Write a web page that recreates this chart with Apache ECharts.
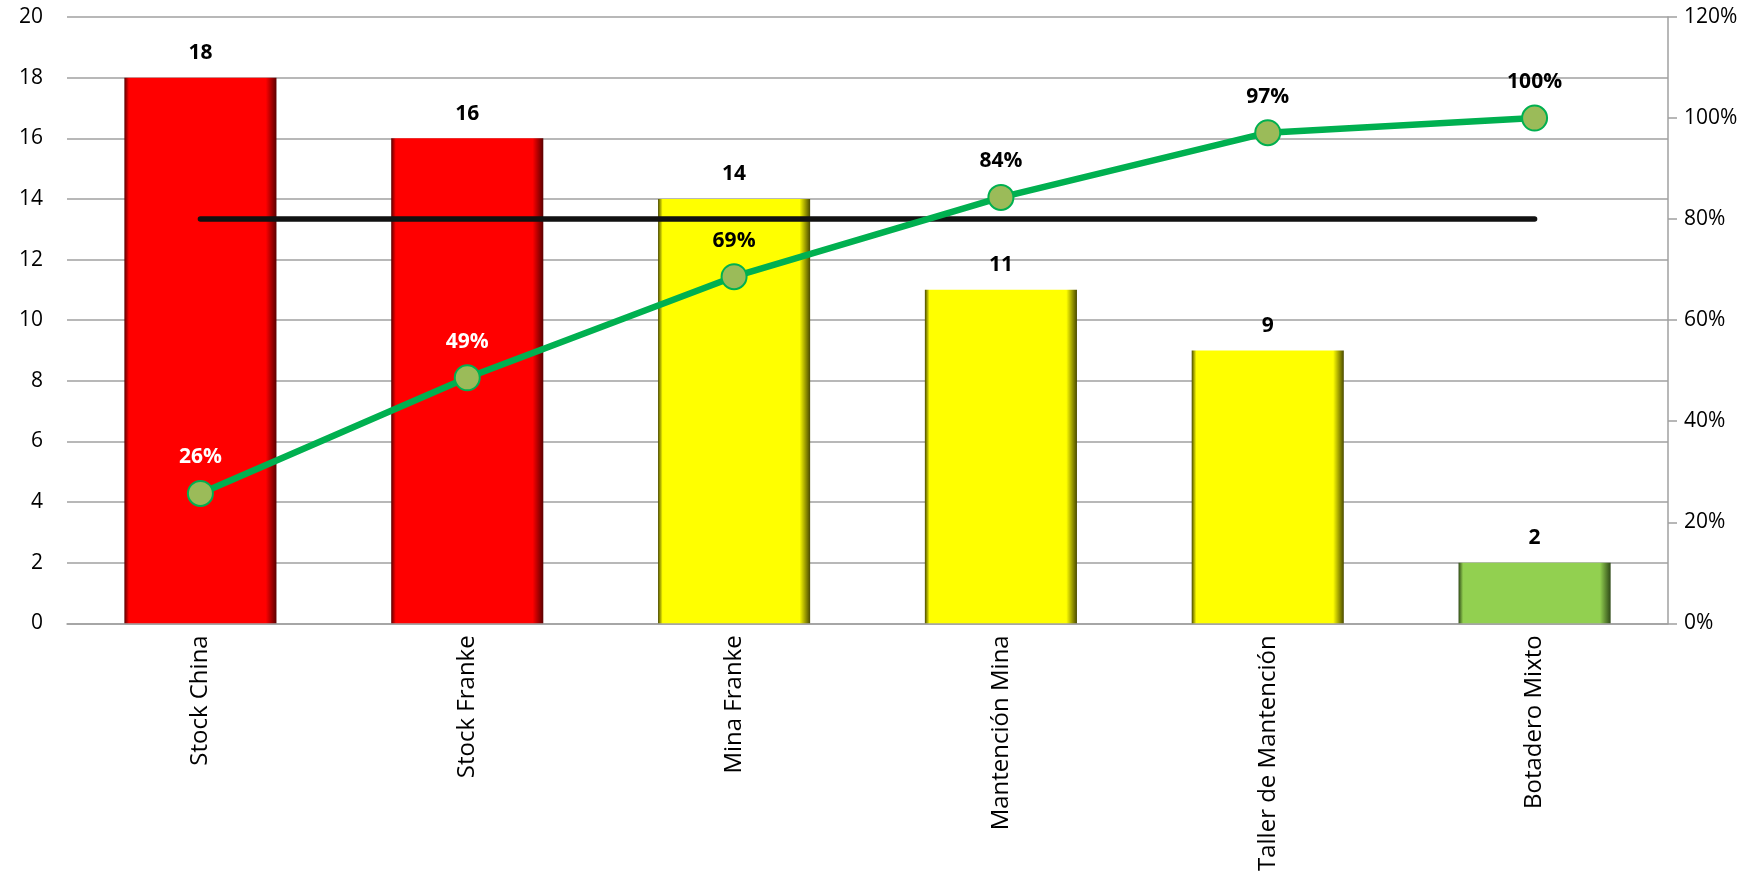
<!DOCTYPE html>
<html>
<head>
<meta charset="utf-8">
<script src="https://cdn.jsdelivr.net/npm/echarts@6/dist/echarts.min.js"></script>
<style>
  html, body { margin: 0; padding: 0; background: #ffffff; }
  #main { width: 1760px; height: 874px; }
</style>
</head>
<body>
<div id="main"></div>
<script>
// datos del pareto
const categorias = ['Stock China', 'Stock Franke', 'Mina Franke', 'Mantención Mina', 'Taller de Mantención', 'Botadero Mixto'];
const cantidades = [18, 16, 14, 11, 9, 2];
const acumulado = [25.7, 48.6, 68.6, 84.3, 97.1, 100];
const umbral = [80, 80, 80, 80, 80, 80];
const coloresBarra = ['#ff0000', '#ff0000', '#ffff00', '#ffff00', '#ffff00', '#92d050'];
const coloresOscuros = ['#5a0000', '#5a0000', '#4a4a00', '#4a4a00', '#4a4a00', '#2f4a17'];
const coloresEtiqueta = ['#ffffff', '#ffffff', '#000000', '#000000', '#000000', '#000000'];

const chart = echarts.init(document.getElementById('main'));

// barras con efecto bisel (aprox)
const barData = cantidades.map((v, i) => ({
  value: v,
  itemStyle: {
    color: new echarts.graphic.LinearGradient(0, 0, 1, 0, [
      { offset: 0, color: coloresOscuros[i] },
      { offset: 0.03, color: coloresBarra[i] },
      { offset: 0.93, color: coloresBarra[i] },
      { offset: 1, color: coloresOscuros[i] }
    ])
  }
}));

const lineData = acumulado.map((v, i) => ({
  value: v,
  label: { color: coloresEtiqueta[i] }
}));

const option = {
  backgroundColor: '#ffffff',
  animation: false,
  grid: { left: 67, right: 92, top: 17, bottom: 248 },
  xAxis: {
    type: 'category',
    data: categorias,
    axisLine: { lineStyle: { color: '#a0a0a0', width: 1.5 } },
    axisTick: { show: false },
    axisLabel: {
      rotate: 90,
      margin: 12,
      color: '#000',
      fontFamily: 'Open Sans',
      fontSize: 24
    }
  },
  yAxis: [
    {
      type: 'value',
      min: 0, max: 20, interval: 2,
      axisLine: { show: false },
      axisTick: { show: false },
      splitLine: { lineStyle: { color: '#a0a0a0', width: 1.5 } },
      axisLabel: { color: '#000', fontFamily: 'Open Sans', fontSize: 21, margin: 24 }
    },
    {
      type: 'value',
      min: 0, max: 120, interval: 20,
      position: 'right',
      axisLine: { show: true, lineStyle: { color: '#a0a0a0', width: 1.5 } },
      axisTick: { show: true, length: 9, lineStyle: { color: '#a0a0a0', width: 1.5 } },
      splitLine: { show: false },
      axisLabel: { color: '#000', fontFamily: 'Open Sans', fontSize: 21, margin: 16, formatter: '{value}%' }
    }
  ],
  series: [
    {
      name: 'Cantidad',
      type: 'bar',
      data: barData,
      barWidth: '57%',
      z: 2,
      label: {
        show: true,
        position: 'top',
        distance: 14,
        color: '#000',
        fontWeight: 'bold',
        fontFamily: 'Open Sans',
        fontSize: 21
      }
    },
    {
      name: 'Umbral',
      type: 'line',
      yAxisIndex: 1,
      data: umbral,
      symbol: 'none',
      z: 3,
      lineStyle: { color: '#111111', width: 5.5, cap: 'round' }
    },
    {
      name: 'Acumulado',
      type: 'line',
      yAxisIndex: 1,
      data: lineData,
      symbol: 'circle',
      symbolSize: 25,
      z: 4,
      lineStyle: { color: '#00b050', width: 6.5 },
      itemStyle: { color: '#9bbb59', borderColor: '#00b050', borderWidth: 2 },
      label: {
        show: true,
        position: 'top',
        distance: 12,
        fontWeight: 'bold',
        fontFamily: 'Open Sans',
        fontSize: 21,
        formatter: p => Math.round(p.value) + '%'
      }
    }
  ]
};

chart.setOption(option);
window.addEventListener('resize', () => chart.resize());
</script>
</body>
</html>
